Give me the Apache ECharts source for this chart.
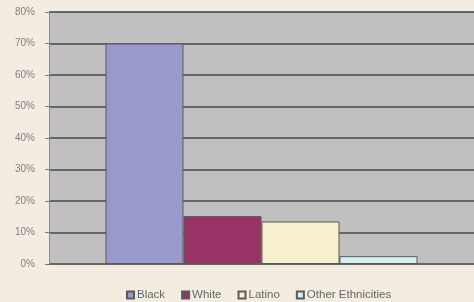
<!DOCTYPE html>
<html><head><meta charset="utf-8">
<script src="https://cdn.jsdelivr.net/npm/echarts@6/dist/echarts.min.js"></script>
<style>html,body{margin:0;padding:0;background:#f3ede1;}#c{width:474px;height:302px;}</style>
</head><body><div id="c"></div>
<script>
const categories = [''];
const seriesNames = ['Black', 'White', 'Latino', 'Other Ethnicities'];
const seriesValues = [70, 15.2, 13.5, 2.5];
const seriesColors = ['#9999cc', '#993366', '#f7f0cf', '#d6f0f0'];
const yTicks = [0, 10, 20, 30, 40, 50, 60, 70, 80];

const chart = echarts.init(document.getElementById('c'));
chart.setOption({
  backgroundColor: '#f3ede1',
  animation: false,
  grid: { left: 49, right: -1, top: 12, bottom: 38, show: true, backgroundColor: '#c0c0c0', borderWidth: 0 },
  legend: {
    top: 284, left: 121, icon: 'rect', itemWidth: 7, itemHeight: 7, itemGap: 16,
    textStyle: { fontSize: 11.5, color: '#666', fontFamily: 'Liberation Sans', padding: [0, 0, 0, -2] },
    data: seriesNames
  },
  xAxis: { type: 'category', data: categories, axisLine: { show: false }, axisTick: { show: false }, axisLabel: { show: false } },
  yAxis: {
    type: 'value', min: yTicks[0], max: yTicks[yTicks.length - 1], interval: 10,
    axisLine: { show: true, lineStyle: { color: '#8a8a8a', width: 1 } },
    axisTick: { show: true, length: 4, lineStyle: { color: '#777' } },
    axisLabel: { formatter: '{value}%', fontSize: 10, color: '#808080', fontFamily: 'Liberation Sans', margin: 14 },
    splitLine: { show: true, lineStyle: { color: '#666', width: 2 } }
  },
  series: seriesNames.map((n, i) => ({
    name: n, type: 'bar', data: [seriesValues[i]], barWidth: 78, barGap: '0%',
    itemStyle: { color: seriesColors[i], borderColor: '#5a5a5a', borderWidth: 1 }
  }))
});
</script></body></html>
